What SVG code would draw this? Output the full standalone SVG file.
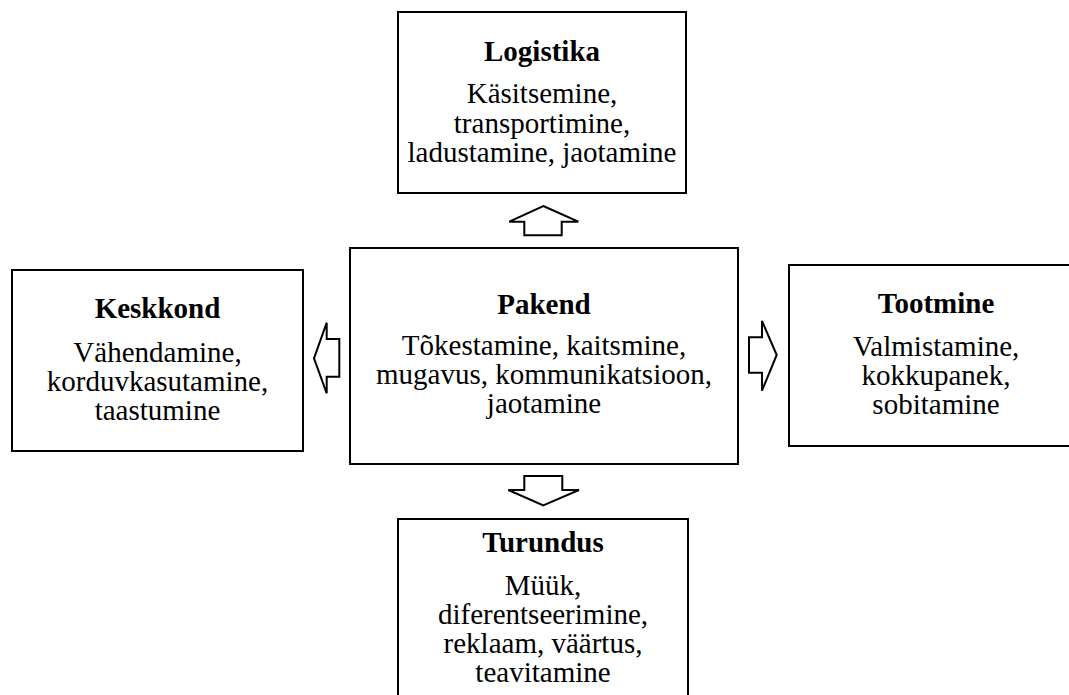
<svg xmlns="http://www.w3.org/2000/svg" width="1069" height="695" viewBox="0 0 1069 695">
<style>
.box{fill:#fff;stroke:#000;stroke-width:2}
.arr{fill:#fff;stroke:#000;stroke-width:2;stroke-linejoin:miter}
text{font-family:"Liberation Serif","Times New Roman",serif;font-size:29px;fill:#000;text-anchor:middle}
.t{font-weight:bold}
</style>
<rect width="1069" height="695" fill="#fff"/>
<g id="logistika">
<rect class="box" x="398" y="12" width="288" height="181"/>
<text class="t" x="542" y="61">Logistika</text>
<text x="542" y="103">Käsitsemine,</text>
<text x="542" y="132.5">transportimine,</text>
<text x="542" y="162">ladustamine, jaotamine</text>
</g>
<g id="keskkond">
<rect class="box" x="12" y="270" width="291" height="181"/>
<text class="t" x="157.5" y="318">Keskkond</text>
<text x="157.5" y="361.5">Vähendamine,</text>
<text x="157.5" y="390.5">korduvkasutamine,</text>
<text x="157.5" y="419.5">taastumine</text>
</g>
<g id="pakend">
<rect class="box" x="350" y="248" width="388" height="216"/>
<text class="t" x="544" y="313.5">Pakend</text>
<text x="544" y="355">Tõkestamine, kaitsmine,</text>
<text x="544" y="384">mugavus, kommunikatsioon,</text>
<text x="544" y="413">jaotamine</text>
</g>
<g id="tootmine">
<rect class="box" x="789" y="265" width="294" height="181"/>
<text class="t" x="936" y="313">Tootmine</text>
<text x="936" y="356">Valmistamine,</text>
<text x="936" y="385">kokkupanek,</text>
<text x="936" y="414">sobitamine</text>
</g>
<g id="turundus">
<rect class="box" x="398" y="519" width="290" height="200"/>
<text class="t" x="543" y="552">Turundus</text>
<text x="543" y="595">Müük,</text>
<text x="543" y="624">diferentseerimine,</text>
<text x="543" y="653">reklaam, väärtus,</text>
<text x="543" y="682">teavitamine</text>
</g>
<g id="connectors">
<polygon class="arr" points="543.3,206 578.3,221.7 561.7,221.7 561.7,235.3 524.3,235.3 524.3,221.7 509.3,221.7"/>
<polygon class="arr" points="314,358.3 326.7,322.7 326.7,339 339.3,339 339.3,376.7 326.7,376.7 326.7,393.3"/>
<polygon class="arr" points="776.7,355 762,321 762,337.3 749,337.3 749,372.7 762,372.7 762,390.7"/>
<polygon class="arr" points="543.3,505.3 579,490 562.3,490 562.3,476 524.3,476 524.3,490 508.3,490"/>
</g>
</svg>
